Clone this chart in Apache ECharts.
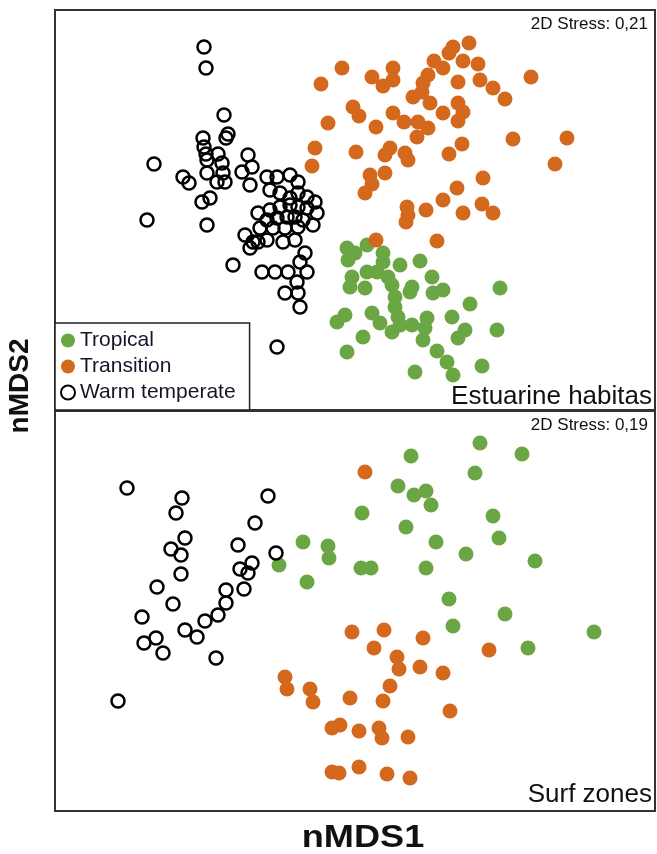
<!DOCTYPE html>
<html>
<head>
<meta charset="utf-8">
<title>nMDS</title>
<script src="https://cdn.jsdelivr.net/npm/echarts@6/dist/echarts.min.js"></script>
<style>
html, body { margin: 0; padding: 0; background: #fff; }
#chart { width: 657px; height: 854px; }
</style>
</head>
<body>
<div id="chart"></div>
<script>
var groups = ['Tropical', 'Transition', 'Warm temperate'];
var stressLabels = ['2D Stress: 0,21', '2D Stress: 0,19'];
var panelLabels = ['Estuarine habitas', 'Surf zones'];

// estuarine habitats, [nMDS1, nMDS2]
var estTropical = [
  [-0.08, -0.38], [0.00, -0.43], [-0.07, -0.50], [0.12, -0.35], [0.28, -0.43], [0.28, -0.52],
  [0.45, -0.55], [0.65, -0.51], [-0.03, -0.67], [-0.05, -0.77], [0.12, -0.62], [0.10, -0.78],
  [0.22, -0.62], [0.33, -0.67], [0.37, -0.75], [0.40, -0.87], [0.40, -0.97], [0.43, -1.07],
  [0.57, -0.77], [0.55, -0.82], [0.77, -0.67], [0.78, -0.83], [0.88, -0.80], [1.45, -0.78],
  [1.15, -0.94], [-0.10, -1.05], [-0.18, -1.12], [0.17, -1.03], [0.25, -1.13], [0.37, -1.22],
  [0.45, -1.15], [0.57, -1.15], [0.72, -1.08], [0.70, -1.18], [0.68, -1.30], [0.97, -1.07],
  [1.10, -1.20], [1.03, -1.28], [1.42, -1.20], [0.08, -1.27], [-0.08, -1.42], [0.82, -1.41],
  [0.92, -1.52], [1.27, -1.56], [0.60, -1.62], [0.98, -1.65]
];
var estTransition = [
  [1.14, 1.67], [0.98, 1.63], [0.94, 1.57], [1.08, 1.49], [1.23, 1.46], [0.79, 1.49],
  [0.88, 1.42], [0.73, 1.35], [0.68, 1.27], [1.03, 1.28], [1.25, 1.30], [1.38, 1.22],
  [1.50, 1.11], [1.76, 1.33], [-0.13, 1.42], [-0.34, 1.26], [0.17, 1.33], [0.38, 1.42],
  [0.38, 1.30], [0.28, 1.24], [0.58, 1.13], [0.67, 1.18], [0.75, 1.07], [0.88, 0.97],
  [1.03, 1.07], [1.08, 0.98], [1.03, 0.89], [-0.02, 1.03], [0.04, 0.94], [-0.27, 0.87],
  [0.21, 0.83], [0.38, 0.97], [0.49, 0.88], [0.63, 0.88], [0.73, 0.82], [0.62, 0.73],
  [1.58, 0.71], [2.12, 0.72], [2.00, 0.46], [-0.40, 0.62], [-0.43, 0.44], [0.01, 0.58],
  [0.35, 0.62], [0.30, 0.55], [0.50, 0.57], [0.53, 0.50], [0.94, 0.56], [1.07, 0.66],
  [0.15, 0.35], [0.30, 0.37], [0.17, 0.26], [0.10, 0.17], [1.28, 0.32], [1.02, 0.22],
  [0.88, 0.10], [0.52, 0.03], [0.53, -0.05], [0.51, -0.12], [0.71, 0.00], [1.08, -0.03],
  [1.27, 0.06], [1.38, -0.03], [0.21, -0.30], [0.82, -0.31]
];
var estWarm = [
  [-1.51, 1.63], [-1.49, 1.42], [-1.31, 0.95], [-1.27, 0.76], [-1.29, 0.72], [-2.01, 0.46],
  [-1.52, 0.72], [-1.51, 0.63], [-1.49, 0.56], [-1.37, 0.56], [-1.07, 0.55], [-1.72, 0.33],
  [-1.66, 0.27], [-1.48, 0.50], [-1.48, 0.37], [-1.33, 0.47], [-1.32, 0.37], [-1.38, 0.28],
  [-1.30, 0.28], [-1.13, 0.38], [-1.03, 0.43], [-1.05, 0.25], [-1.53, 0.08], [-1.45, 0.12],
  [-0.88, 0.33], [-0.78, 0.33], [-0.65, 0.35], [-0.57, 0.28], [-0.85, 0.20], [-0.75, 0.17],
  [-0.65, 0.12], [-0.57, 0.17], [-0.48, 0.13], [-0.40, 0.08], [-0.97, -0.03], [-0.85, 0.00],
  [-0.75, 0.03], [-0.65, 0.05], [-0.57, 0.03], [-0.48, 0.02], [-0.38, -0.03], [-0.88, -0.10],
  [-0.78, -0.08], [-0.68, -0.07], [-0.60, -0.07], [-0.52, -0.10], [-0.42, -0.15], [-0.95, -0.18],
  [-0.82, -0.18], [-0.70, -0.18], [-0.57, -0.17], [-1.10, -0.25], [-1.02, -0.32], [-0.88, -0.30],
  [-0.72, -0.32], [-0.60, -0.30], [-2.08, -0.10], [-1.48, -0.15], [-1.05, -0.38], [-0.97, -0.32],
  [-1.22, -0.55], [-0.93, -0.62], [-0.80, -0.62], [-0.67, -0.62], [-0.48, -0.62], [-0.50, -0.43],
  [-0.55, -0.52], [-0.58, -0.72], [-0.70, -0.83], [-0.57, -0.83], [-0.55, -0.97], [-0.78, -1.37]
];

// surf zones, [nMDS1, nMDS2]
var surfTropical = [
  [1.25, 1.68], [1.67, 1.57], [0.56, 1.55], [1.20, 1.38], [0.43, 1.25], [0.59, 1.16],
  [0.71, 1.20], [0.76, 1.06], [0.07, 0.98], [1.38, 0.95], [0.51, 0.84], [0.81, 0.69],
  [1.44, 0.73], [-0.52, 0.69], [-0.27, 0.65], [-0.26, 0.53], [1.11, 0.57], [1.80, 0.50],
  [0.06, 0.43], [0.16, 0.43], [0.71, 0.43], [-0.48, 0.29], [-0.76, 0.46], [0.94, 0.12],
  [1.50, -0.03], [0.98, -0.15], [1.73, -0.37], [2.39, -0.21]
];
var surfTransition = [
  [0.10, 1.39], [-0.03, -0.21], [0.29, -0.19], [0.68, -0.27], [0.19, -0.37], [1.34, -0.39],
  [0.42, -0.46], [0.44, -0.58], [0.65, -0.56], [0.88, -0.62], [0.35, -0.75], [-0.45, -0.78],
  [-0.42, -0.91], [-0.05, -0.87], [0.28, -0.90], [0.95, -1.00], [-0.70, -0.66], [-0.68, -0.78],
  [-0.23, -1.17], [-0.15, -1.14], [0.04, -1.20], [0.24, -1.17], [0.27, -1.27], [0.53, -1.26],
  [-0.23, -1.61], [-0.16, -1.62], [0.04, -1.56], [0.32, -1.63], [0.55, -1.67]
];
var surfWarm = [
  [-2.28, 1.23], [-1.73, 1.13], [-1.79, 0.98], [-1.70, 0.73], [-1.84, 0.62], [-1.74, 0.56],
  [-1.74, 0.37], [-1.98, 0.24], [-1.82, 0.07], [-2.13, -0.06], [-1.50, -0.10], [-1.37, -0.04],
  [-1.29, 0.08], [-1.29, 0.21], [-1.11, 0.22], [-1.15, 0.42], [-1.07, 0.38], [-1.03, 0.48],
  [-1.17, 0.66], [-1.00, 0.88], [-0.87, 1.15], [-0.79, 0.58], [-2.11, -0.32], [-1.99, -0.27],
  [-1.92, -0.42], [-1.70, -0.19], [-1.58, -0.26], [-1.39, -0.47], [-2.37, -0.90]
];

var panelData = [
  [estTropical, estTransition, estWarm],
  [surfTropical, surfTransition, surfWarm]
];

var green = '#6aa744';
var orange = '#d4691e';
var styles = [
  { color: green, opacity: 1 },
  { color: orange, opacity: 1 },
  { color: 'rgba(0,0,0,0)', borderColor: '#000', borderWidth: 2.5, opacity: 1 }
];

var chart = echarts.init(document.getElementById('chart'));

var series = [];
panelData.forEach(function (sets, p) {
  sets.forEach(function (d, g) {
    series.push({
      name: groups[g],
      type: 'scatter',
      xAxisIndex: p,
      yAxisIndex: p,
      data: d,
      symbol: 'circle',
      symbolSize: g === 2 ? 13 : 15,
      itemStyle: styles[g],
      emphasis: { disabled: true },
      animation: false
    });
  });
});

var txt = function (text, x, y, size, align, extra) {
  var o = {
    type: 'text',
    x: x,
    y: y,
    z: 100,
    style: {
      text: text,
      font: size + 'px "Liberation Sans", Arial, sans-serif',
      fill: '#111',
      align: align,
      verticalAlign: 'middle'
    }
  };
  if (extra) for (var k in extra) o[k] = extra[k];
  return o;
};

var option = {
  backgroundColor: '#fff',
  animation: false,
  grid: [
    { left: 55, top: 10, width: 600, height: 400, show: true, borderColor: '#333', borderWidth: 2 },
    { left: 55, top: 411, width: 600, height: 400, show: true, borderColor: '#333', borderWidth: 2 }
  ],
  xAxis: [0, 1].map(function (i) {
    return { type: 'value', gridIndex: i, min: -3, max: 3, show: false };
  }),
  yAxis: [0, 1].map(function (i) {
    return { type: 'value', gridIndex: i, min: -2, max: 2, show: false };
  }),
  legend: {
    data: groups,
    orient: 'vertical',
    left: 55,
    top: 323,
    icon: 'circle',
    itemWidth: 14,
    itemHeight: 14,
    itemGap: 5,
    itemTextGap: 18,
    padding: [7, 14, 7, 5],
    backgroundColor: '#fff',
    borderColor: '#222',
    borderWidth: 1.5,
    borderRadius: 0,
    selectedMode: false,
    textStyle: { fontFamily: '"Liberation Sans", Arial, sans-serif', fontSize: 21, color: '#15152a', lineHeight: 21 }
  },
  series: series,
  graphic: [
    txt(stressLabels[0], 648, 24, 17, 'right'),
    txt(stressLabels[1], 648, 425, 17, 'right'),
    txt(panelLabels[0], 652, 397, 26, 'right'),
    txt(panelLabels[1], 652, 795, 26, 'right'),
    {
      type: 'text', x: 363, y: 838, z: 100, scaleX: 1.13, originX: 0, originY: 0,
      style: { text: 'nMDS1', font: 'bold 32px "Liberation Sans", Arial, sans-serif', fill: '#111', align: 'center', verticalAlign: 'middle' }
    },
    {
      type: 'text', x: 20, y: 386, z: 100, rotation: Math.PI / 2,
      style: { text: 'nMDS2', font: 'bold 28px "Liberation Sans", Arial, sans-serif', fill: '#111', align: 'center', verticalAlign: 'middle' }
    }
  ]
};

chart.setOption(option);
</script>
</body>
</html>
